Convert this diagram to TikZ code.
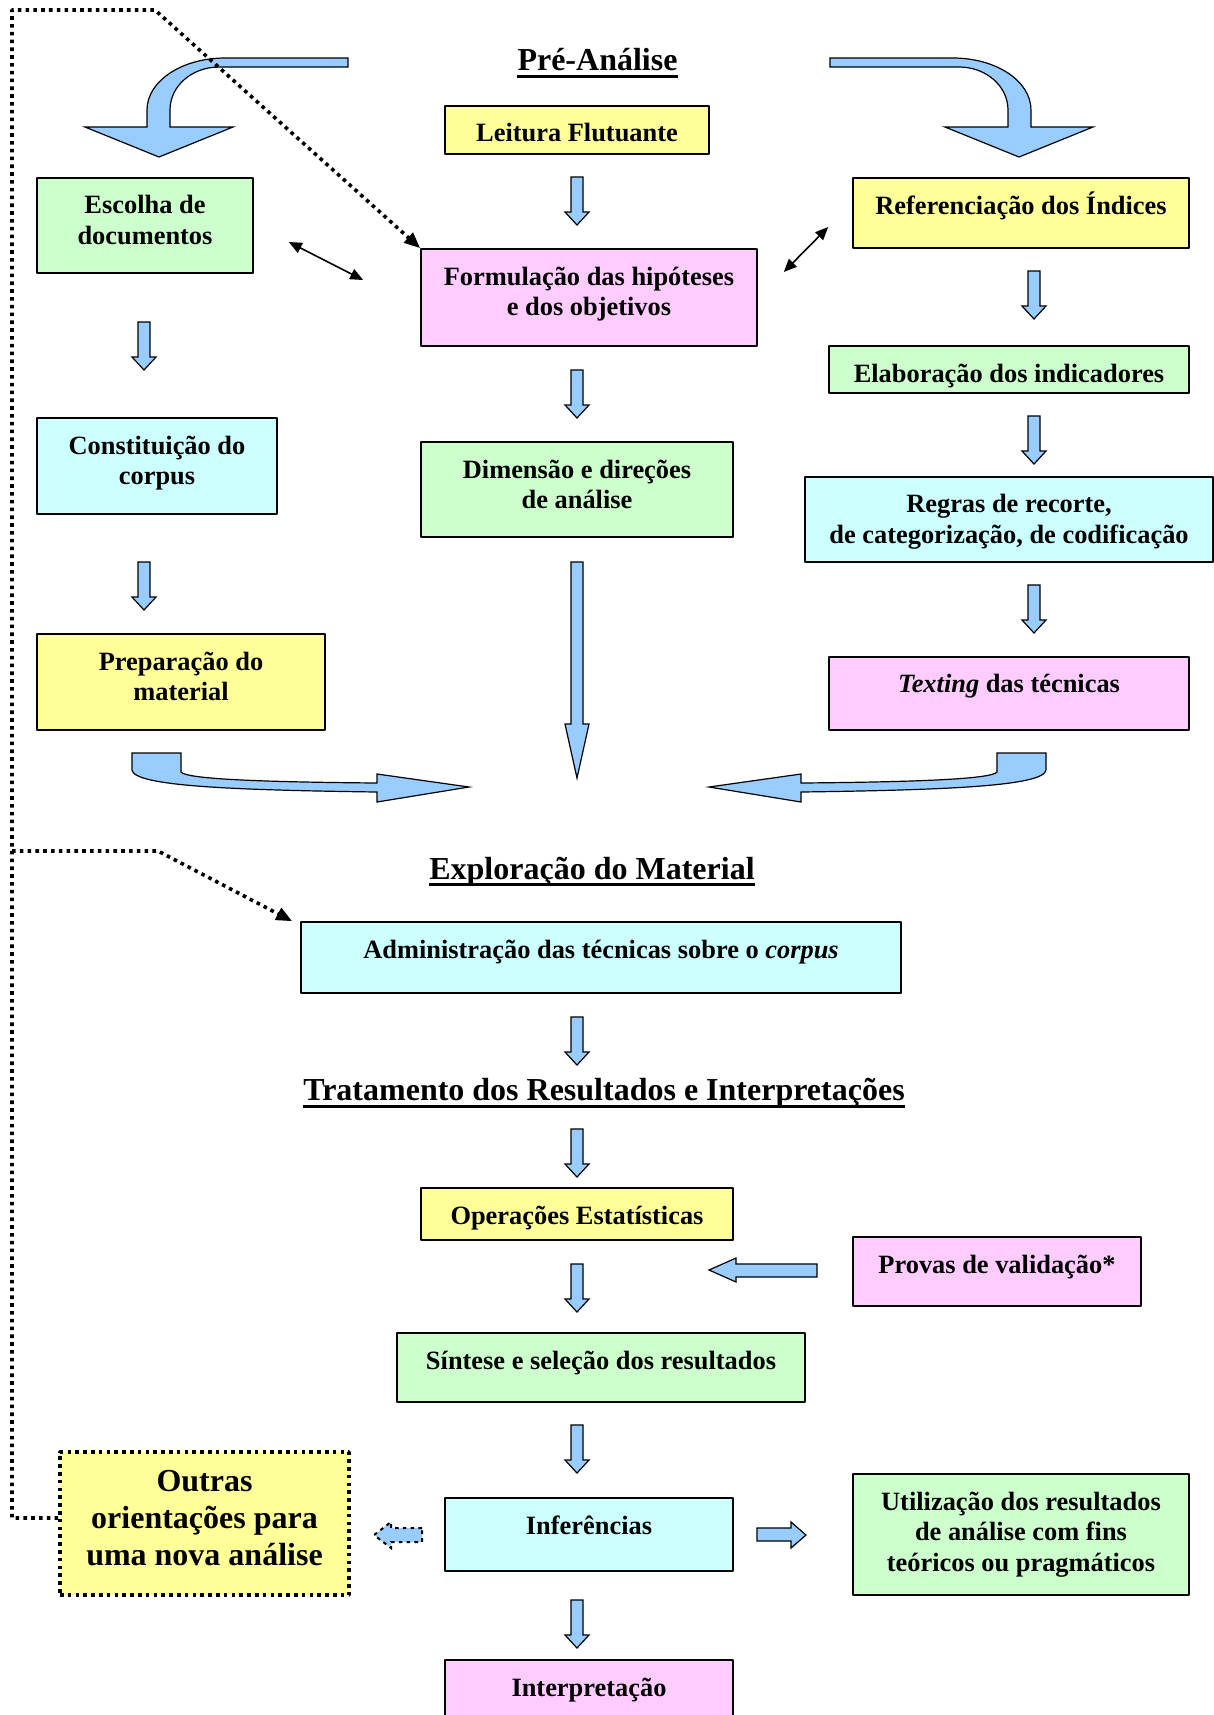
\documentclass[tikz,border=0pt]{standalone}
\usepackage{fontspec}
\setmainfont{Liberation Serif}
\usetikzlibrary{arrows.meta,positioning}
\definecolor{amarelo}{HTML}{FFFF99}
\definecolor{verde}{HTML}{CCFFCC}
\definecolor{ciano}{HTML}{CCFFFF}
\definecolor{rosa}{HTML}{FFCCFF}
\definecolor{azul}{HTML}{99CCFF}
\tikzset{
  caixa/.style={draw, line width=0.8pt, inner sep=0pt},
  rot/.style={below=9pt, align=center, inner sep=0pt},
  titulo/.style={font=\bfseries\fontsize{16}{19}\selectfont, inner sep=0pt, anchor=base},
  bloco/.style={draw, fill=azul, line width=0.6pt, line join=miter},
  ponto/.style={line width=1.8pt, line cap=butt, dash pattern=on 1.8pt off 2.1pt},
}
\begin{document}
\begin{tikzpicture}[x=0.5pt, y=-0.5pt, font=\bfseries\fontsize{13.2}{15.3}\selectfont, line join=round, >={Triangle[length=6.5pt,width=5.5pt]}]
\useasboundingbox (0,0) rectangle (1214,1715);
\node[titulo] (pre) at (597.5,70.7) {Pré-Análise};
\node[titulo] (exploracao) at (592,879) {Exploração do Material};
\node[titulo] (tratamento) at (604,1100.7) {Tratamento dos Resultados e Interpretações};
\foreach \t in {pre,exploracao,tratamento}
  \draw[line width=1.8pt] ([yshift=-2.8pt]\t.base west) -- ([yshift=-2.8pt]\t.base east);
\node[caixa, fill=amarelo, minimum width=132pt, minimum height=24pt, label={[rot]north:Leitura Flutuante}] (leitura) at (577,130) {};
\node[caixa, fill=verde, minimum width=108pt, minimum height=47.5pt, label={[rot]north:Escolha de\\documentos}] (escolha) at (145,225.5) {};
\node[caixa, fill=amarelo, minimum width=168pt, minimum height=35pt, label={[rot]north:Referenciação dos \smash{Í}ndices}] (referencia) at (1021,213) {};
\node[caixa, fill=rosa, minimum width=168pt, minimum height=48.5pt, label={[rot]north:Formulação das hipóteses\\e dos objetivos}] (formulacao) at (589,297.5) {};
\node[caixa, fill=verde, minimum width=180pt, minimum height=23.5pt, label={[rot]north:Elaboração dos indicadores}] (elaboracao) at (1009,369.5) {};
\node[caixa, fill=ciano, minimum width=120pt, minimum height=48pt, label={[rot]north:Constituição do\\corpus}] (constituicao) at (157,466) {};
\node[caixa, fill=verde, minimum width=156pt, minimum height=47.5pt, label={[rot]north:Dimensão e direções\\de análise}] (dimensao) at (577,489.5) {};
\node[caixa, fill=ciano, minimum width=204pt, minimum height=42.5pt, label={[rot]north:{Regras de recorte,\\de categorização, de codificação}}] (regras) at (1009,519.5) {};
\node[caixa, fill=amarelo, minimum width=144pt, minimum height=48pt, label={[rot]north:Preparação do\\material}] (preparacao) at (181,682) {};
\node[caixa, fill=rosa, minimum width=180pt, minimum height=36.5pt, label={[rot]north:\textit{Texting} das técnicas}] (texting) at (1009,693.5) {};
\node[caixa, fill=ciano, minimum width=300pt, minimum height=35.5pt, label={[rot]north:Administração das técnicas sobre o \textit{corpus}}] (administracao) at (601,957.5) {};
\node[caixa, fill=amarelo, minimum width=156pt, minimum height=26pt, label={[rot]north:Operações Estatísticas}] (operacoes) at (577,1214) {};
\node[caixa, fill=rosa, minimum width=144pt, minimum height=34.5pt, label={[rot]north:Provas de validação*}] (provas) at (997,1271.5) {};
\node[caixa, fill=verde, minimum width=204pt, minimum height=34.5pt, label={[rot]north:Síntese e seleção dos resultados}] (sintese) at (601,1367.5) {};
\node[caixa, ponto, fill=amarelo, minimum width=144.5pt, minimum height=71.5pt, label={[below=10pt, align=center, inner sep=0pt, font=\bfseries\fontsize{16}{18.5}\selectfont]north:Outras\\orientações para\\uma nova análise}] (outras) at (204.5,1523.5) {};
\node[caixa, fill=ciano, minimum width=144pt, minimum height=36.5pt, label={[rot]north:Inferências}] (inferencias) at (589,1534.5) {};
\node[caixa, fill=verde, minimum width=168pt, minimum height=60.5pt, label={[rot]north:Utilização dos resultados\\de análise com fins\\teóricos ou pragmáticos}] (utilizacao) at (1021,1534.5) {};
\node[caixa, fill=rosa, minimum width=144pt, minimum height=40pt, label={[rot]north:Interpretação}] (interpretacao) at (589,1700) {};
\foreach \x/\y in {577/177, 144/322, 577/370, 1034/271, 1034/416, 144/562, 1034/585, 577/1017, 577/1129, 577/1264, 577/1425, 577/1600}
  \draw[bloco, shift={(\x,\y)}] (-6,0) -- (6,0) -- (6,35) -- (12,35) -- (0,48) -- (-12,35) -- (-6,35) -- cycle;
\foreach \s in {1,-1}{
  \draw[bloco, shift={(589,0)}, xscale=\s, shift={(-589,0)}] (348,58) -- (225,58) .. controls (182,58) and (147,81) .. (147,110) -- (147,127) -- (85,127) -- (159,157) -- (233,127) -- (170,127) -- (170,110) .. controls (170,86) and (192,67) .. (219,67) -- (348,67) -- cycle;
  \draw[bloco, shift={(589,0)}, xscale=\s, shift={(-589,0)}] (132,753) -- (181,753) -- (181,772) .. controls (186,779) and (260,782) .. (377,783) -- (377,774) -- (469,787) -- (377,802) -- (377,792) .. controls (230,790) and (134,786) .. (132,770) -- cycle;
}
\draw[bloco] (571,562) -- (583,562) -- (583,724) -- (589,724) -- (577,778) -- (565,724) -- (571,724) -- cycle;
\draw[bloco] (817,1264) -- (736,1264) -- (736,1258) -- (709,1270) -- (736,1282) -- (736,1277) -- (817,1277) -- cycle;
\draw[bloco] (757,1528) -- (791,1528) -- (791,1522) -- (806,1535) -- (791,1548) -- (791,1541) -- (757,1541) -- cycle;
\draw[bloco, ponto, line width=1pt] (422,1528) -- (391,1528) -- (391,1522) -- (374,1535) -- (391,1548) -- (391,1542) -- (422,1542) -- cycle;
\draw[<->, line width=0.8pt] ([xshift=17.5pt,yshift=-8.25pt]escolha.east) -- ([xshift=-28.5pt,yshift=8.75pt]formulacao.west);
\draw[<->, line width=0.8pt] ([xshift=13pt,yshift=12.75pt]formulacao.east) -- ([xshift=-12pt,yshift=-7pt]referencia.west);
\coordinate (A) at (12,10);
\coordinate (B) at (12,851);
\draw[ponto, -{Triangle[length=8pt,width=6.5pt]}] ([yshift=2.75pt]outras.west) -| (A) -- ++(143,0) -- (formulacao.north west);
\draw[ponto, -{Triangle[length=8pt,width=6.5pt]}] (B) -- ++(146,0) -- ([xshift=-4pt]administracao.north west);
\end{tikzpicture}
\end{document}
